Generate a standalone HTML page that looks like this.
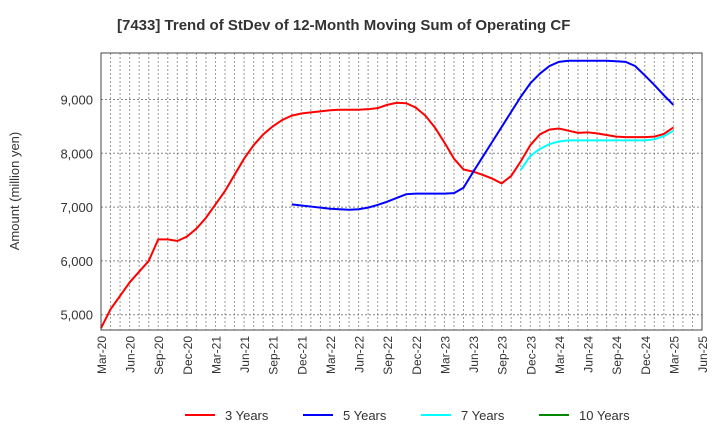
<!DOCTYPE html>
<html><head><meta charset="utf-8"><style>
body{margin:0;background:#fff;font-family:"Liberation Sans",sans-serif}
</style></head><body>
<svg id="c" width="720" height="440" xmlns="http://www.w3.org/2000/svg" font-family="Liberation Sans, sans-serif">
<text x="117" y="30" font-size="15" font-weight="bold" fill="#333">[7433]  Trend of StDev of 12-Month Moving Sum of Operating CF</text>
<text transform="translate(19,191) rotate(-90)" text-anchor="middle" font-size="13" fill="#333">Amount (million yen)</text>
<g id="grid"></g><g id="series"></g><g id="axes"></g>
<g id="legend"></g>
</svg>
<script>
const xLabels=["Mar-20","Jun-20","Sep-20","Dec-20","Mar-21","Jun-21","Sep-21","Dec-21","Mar-22","Jun-22","Sep-22","Dec-22","Mar-23","Jun-23","Sep-23","Dec-23","Mar-24","Jun-24","Sep-24","Dec-24","Mar-25","Jun-25"];
const yTicks=[5000,6000,7000,8000,9000];
const s3=[4750,5100,5350,5600,5800,6000,6400,6400,6370,6450,6600,6800,7050,7300,7600,7900,8150,8350,8500,8620,8700,8740,8760,8780,8800,8810,8810,8810,8820,8840,8900,8940,8930,8850,8700,8480,8200,7900,7700,7660,7600,7530,7440,7580,7850,8150,8350,8440,8460,8420,8380,8390,8370,8340,8310,8300,8300,8300,8310,8360,8480];
const s5Start=20;
const s5=[7050,7030,7010,6990,6970,6960,6950,6960,6990,7040,7100,7170,7240,7250,7250,7250,7250,7260,7360,7650,7930,8210,8490,8770,9050,9300,9480,9620,9700,9720,9720,9720,9720,9720,9710,9700,9620,9450,9270,9080,8900];
const s7Start=44;
const s7=[7690,7950,8080,8170,8220,8240,8240,8240,8240,8240,8240,8240,8240,8240,8260,8320,8420];
const s10=[];
const NS="http://www.w3.org/2000/svg";
const L=101,R=702,T=53,B=330,nM=63;
const x=m=>L+(R-L)*m/nM;
const y=v=>153.3-(v-8000)*53.8/1000;
function el(t,a,p){const e=document.createElementNS(NS,t);for(const k in a)e.setAttribute(k,a[k]);p.appendChild(e);return e;}
const g=document.getElementById('grid'),ax=document.getElementById('axes'),sg=document.getElementById('series'),lg=document.getElementById('legend');
for(let m=1;m<nM;m++){const l=el('line',{x1:x(m),x2:x(m),y1:T,y2:B,stroke:'#999','stroke-dasharray':'2,2','stroke-width':1},g);

}
yTicks.forEach(v=>{const l=el('line',{x1:L,x2:R,y1:y(v),y2:y(v),stroke:'#888','stroke-dasharray':'2,2','stroke-width':1},g);


const t=el('text',{x:L-8,y:y(v)+5,'text-anchor':'end','font-size':13,fill:'#333'},ax);t.textContent=v.toLocaleString('en-US');

});
const fr=el('rect',{x:L,y:T,width:R-L,height:B-T,fill:'none',stroke:'#444','stroke-width':1},ax);


xLabels.forEach((s,i)=>{const px=x(i*3);const t=el('text',{transform:`translate(${px+5},${B+6}) rotate(-90)`,'text-anchor':'end','font-size':12,fill:'#333'},ax);t.textContent=s;

});
function line(arr,start,col,name){if(!arr.length)return;const p=el('polyline',{points:arr.map((v,i)=>x(start+i)+','+y(v)).join(' '),fill:'none',stroke:col,'stroke-width':2},sg);

}
line(s3,0,'#f00','series-3-years');
line(s5,s5Start,'#00f','series-5-years');
line(s7,s7Start,'#0ff','series-7-years');
line(s10,0,'#080','series-10-years');
[["3 Years","#f00",185],["5 Years","#00f",303],["7 Years","#0ff",421],["10 Years","#080",539]].forEach(([n,c,lx])=>{
const gi=el('g',{},lg);


el('line',{x1:lx,x2:lx+30,y1:415,y2:415,stroke:c,'stroke-width':2},gi);
const t=el('text',{x:lx+40,y:420,'font-size':13,fill:'#333'},gi);t.textContent=n;});
</script>
</body></html>
